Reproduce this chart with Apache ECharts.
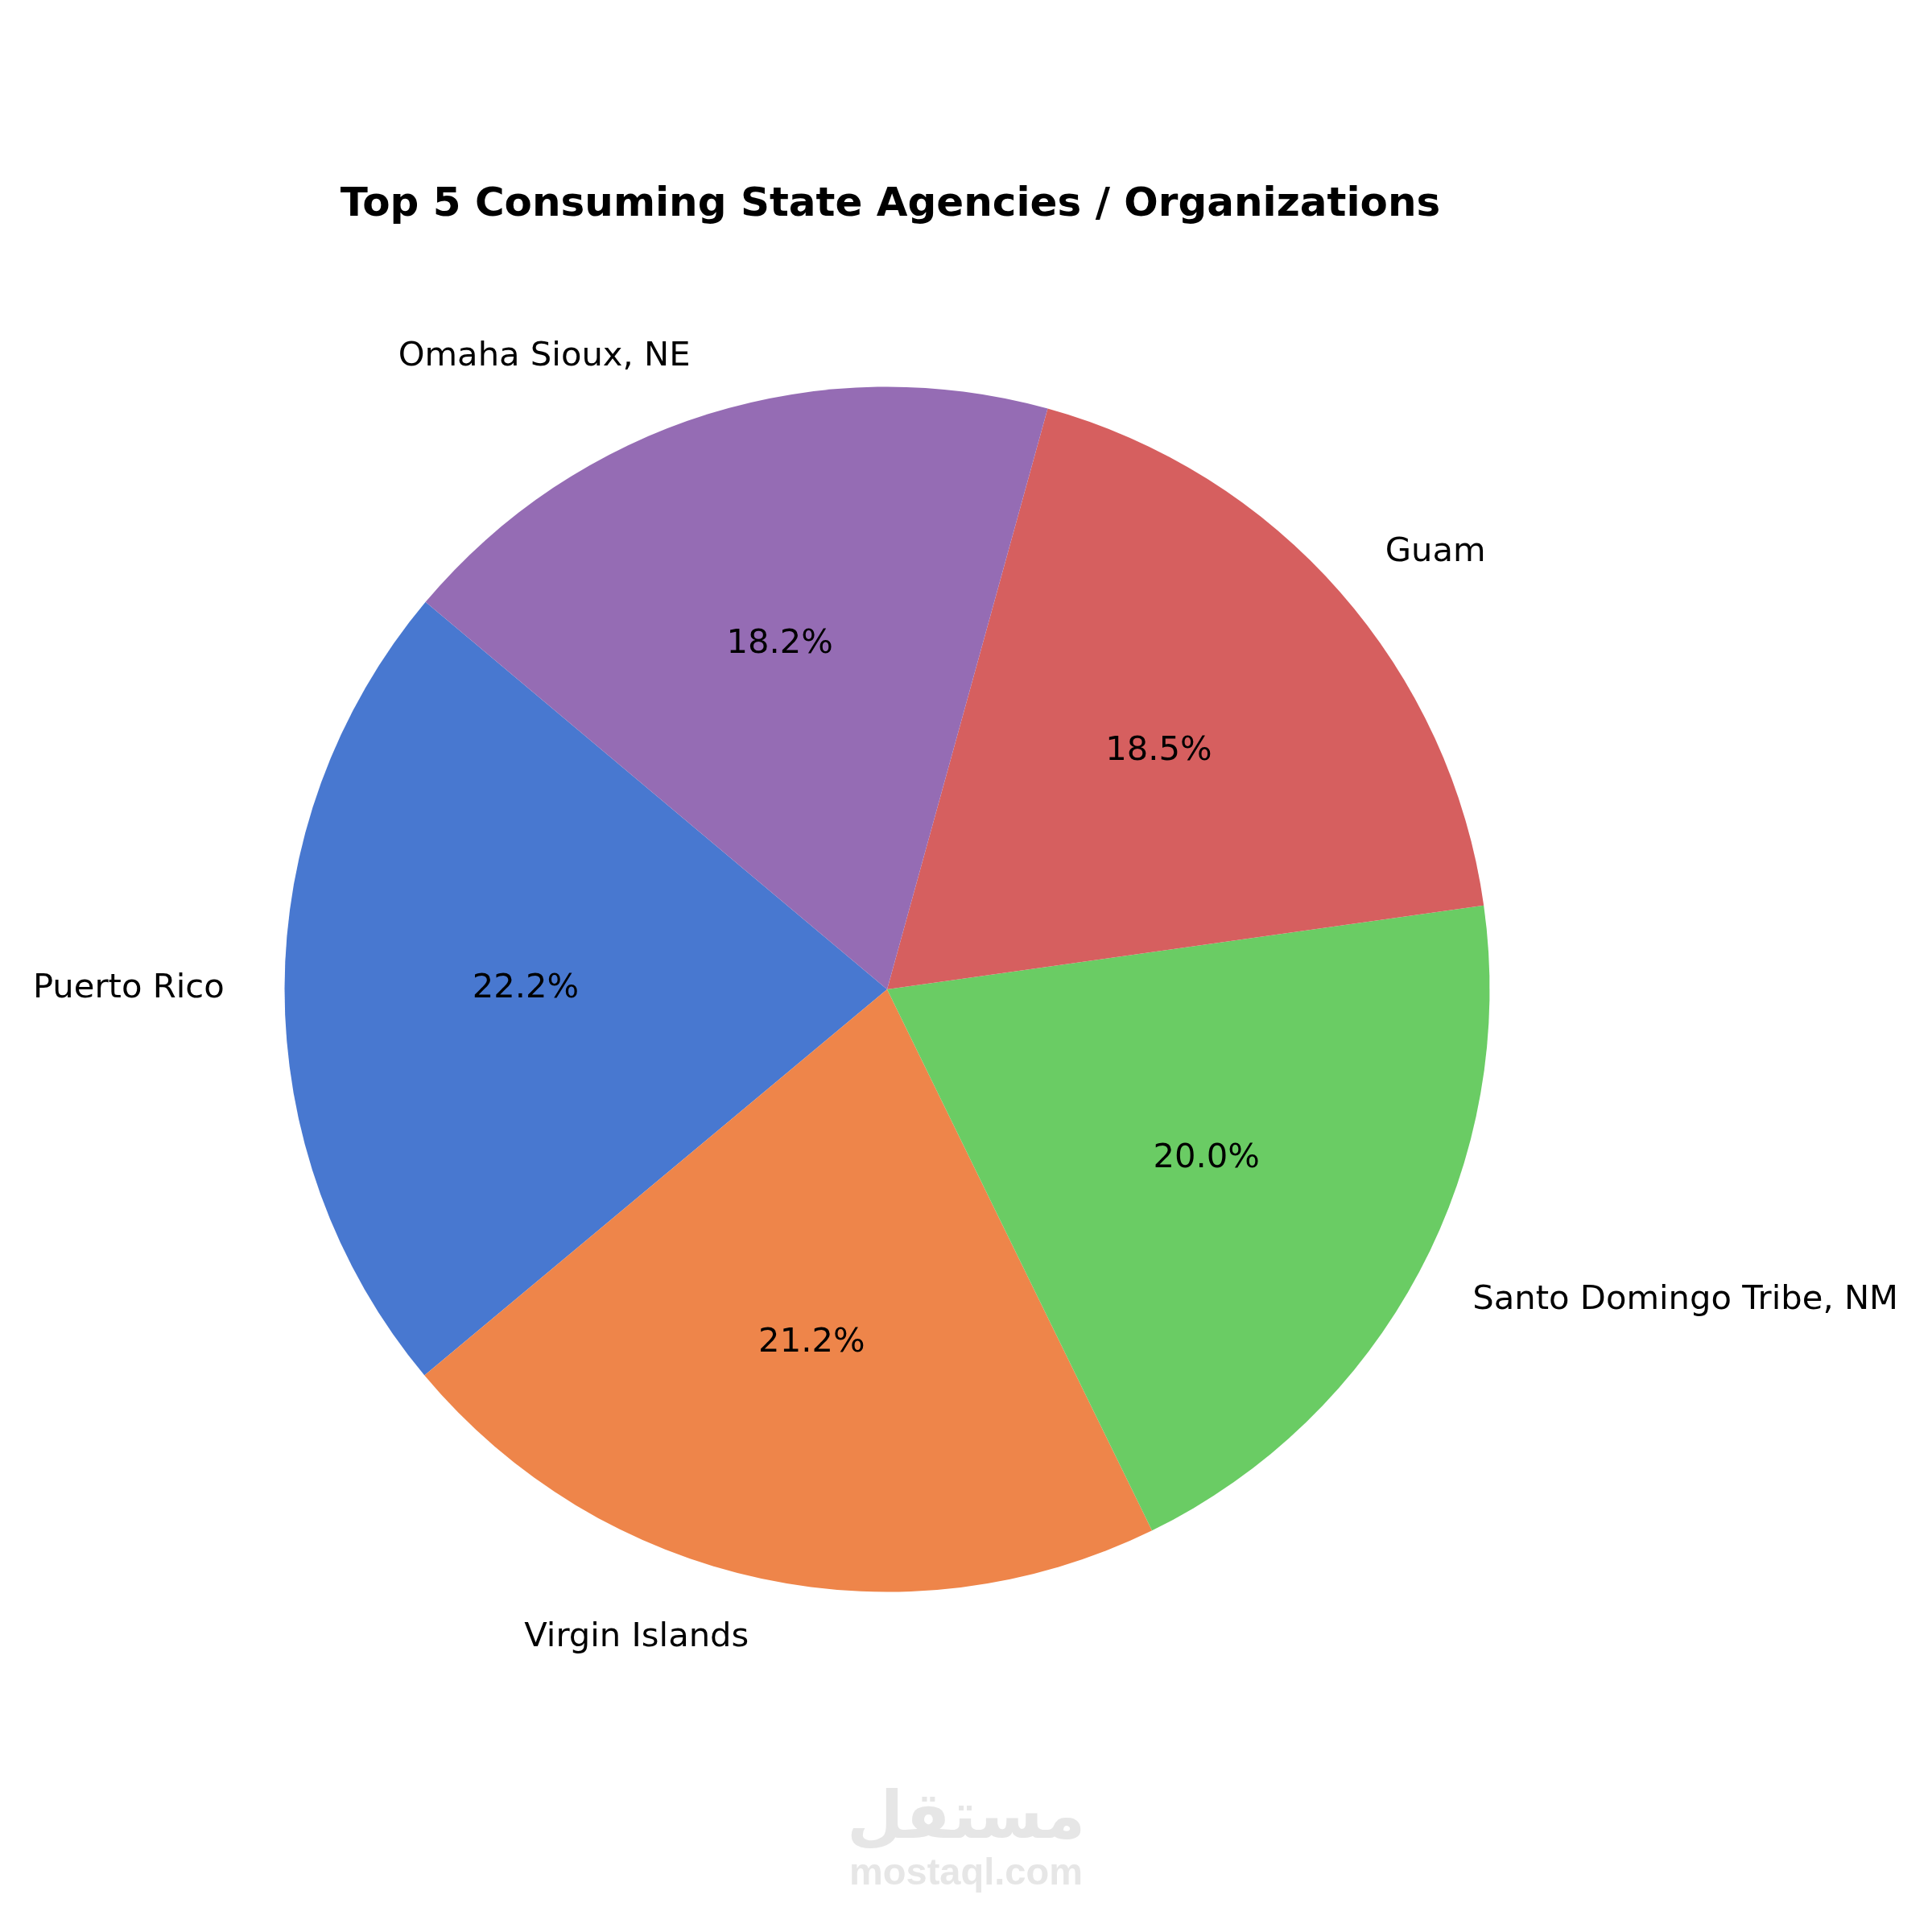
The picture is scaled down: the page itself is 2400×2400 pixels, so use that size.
<!DOCTYPE html>
<html>
<head>
<meta charset="utf-8">
<script src="https://cdn.jsdelivr.net/npm/echarts@6/dist/echarts.min.js"></script>
<style>
html,body{margin:0;padding:0;background:#fff;}
#chart{width:2400px;height:2400px;}
</style>
</head>
<body>
<div id="chart"></div>
<script>
const categories = ['Puerto Rico', 'Virgin Islands', 'Santo Domingo Tribe, NM', 'Guam', 'Omaha Sioux, NE'];
const values = [22.2, 21.2, 20.0, 18.5, 18.2];
const colors = ['#4878D0', '#EE854A', '#6ACC64', '#D65F5F', '#956CB4'];
const titleText = 'Top 5 Consuming State Agencies / Organizations';

const total = values.reduce((a, b) => a + b, 0);
const R = 748.5;
const CX = 1102, CY = 1229;
const FONT = 'DejaVu Sans';

const chart = echarts.init(document.getElementById('chart'), null, {renderer: 'canvas'});
const data = categories.map((c, i) => ({name: c, value: values[i], itemStyle: {color: colors[i]}}));

chart.setOption({
  backgroundColor: '#ffffff',
  animation: false,
  title: {
    text: titleText,
    left: 1101,
    top: 225,
    textAlign: 'center',
    textStyle: {fontFamily: FONT, fontWeight: 'bold', fontSize: 50, color: '#000'}
  },
  graphic: [
    {type: 'text', x: 1200, y: 2262, style: {text: 'مستقل', fontFamily: FONT, fontWeight: 'bold', fontSize: 81, fill: '#e6e6e6', align: 'center', verticalAlign: 'middle'}, silent: true},
    {type: 'text', x: 1200, y: 2328, style: {text: 'mostaql.com', fontFamily: 'Liberation Sans', fontWeight: 'bold', fontSize: 47, fill: '#e6e6e6', align: 'center', verticalAlign: 'middle'}, silent: true}
  ],
  series: [
    {
      type: 'pie',
      center: [CX, CY],
      radius: [0, R],
      startAngle: 140,
      clockwise: false,
      avoidLabelOverlap: false,
      data: data,
      itemStyle: {borderWidth: 0},
      label: {
        show: true,
        position: 'outside',
        formatter: '{b}',
        fontFamily: FONT,
        fontSize: 41.7,
        color: '#000',
        distanceToLabelLine: 0,
        overflow: 'none'
      },
      labelLine: {show: false, length: R * 0.1, length2: 0},
      emphasis: {disabled: true}
    },
    {
      type: 'pie',
      center: [CX, CY],
      radius: [R * 0.2 - 6, R],
      startAngle: 140,
      clockwise: false,
      avoidLabelOverlap: false,
      silent: true,
      data: data.map(d => ({name: d.name, value: d.value, itemStyle: {color: 'rgba(0,0,0,0)'}})),
      itemStyle: {borderWidth: 0},
      label: {
        show: true,
        position: 'inside',
        formatter: p => (p.value / total * 100).toFixed(1) + '%',
        fontFamily: FONT,
        fontSize: 41.7,
        color: '#000'
      },
      labelLine: {show: false},
      emphasis: {disabled: true}
    }
  ]
});
</script>
</body>
</html>
